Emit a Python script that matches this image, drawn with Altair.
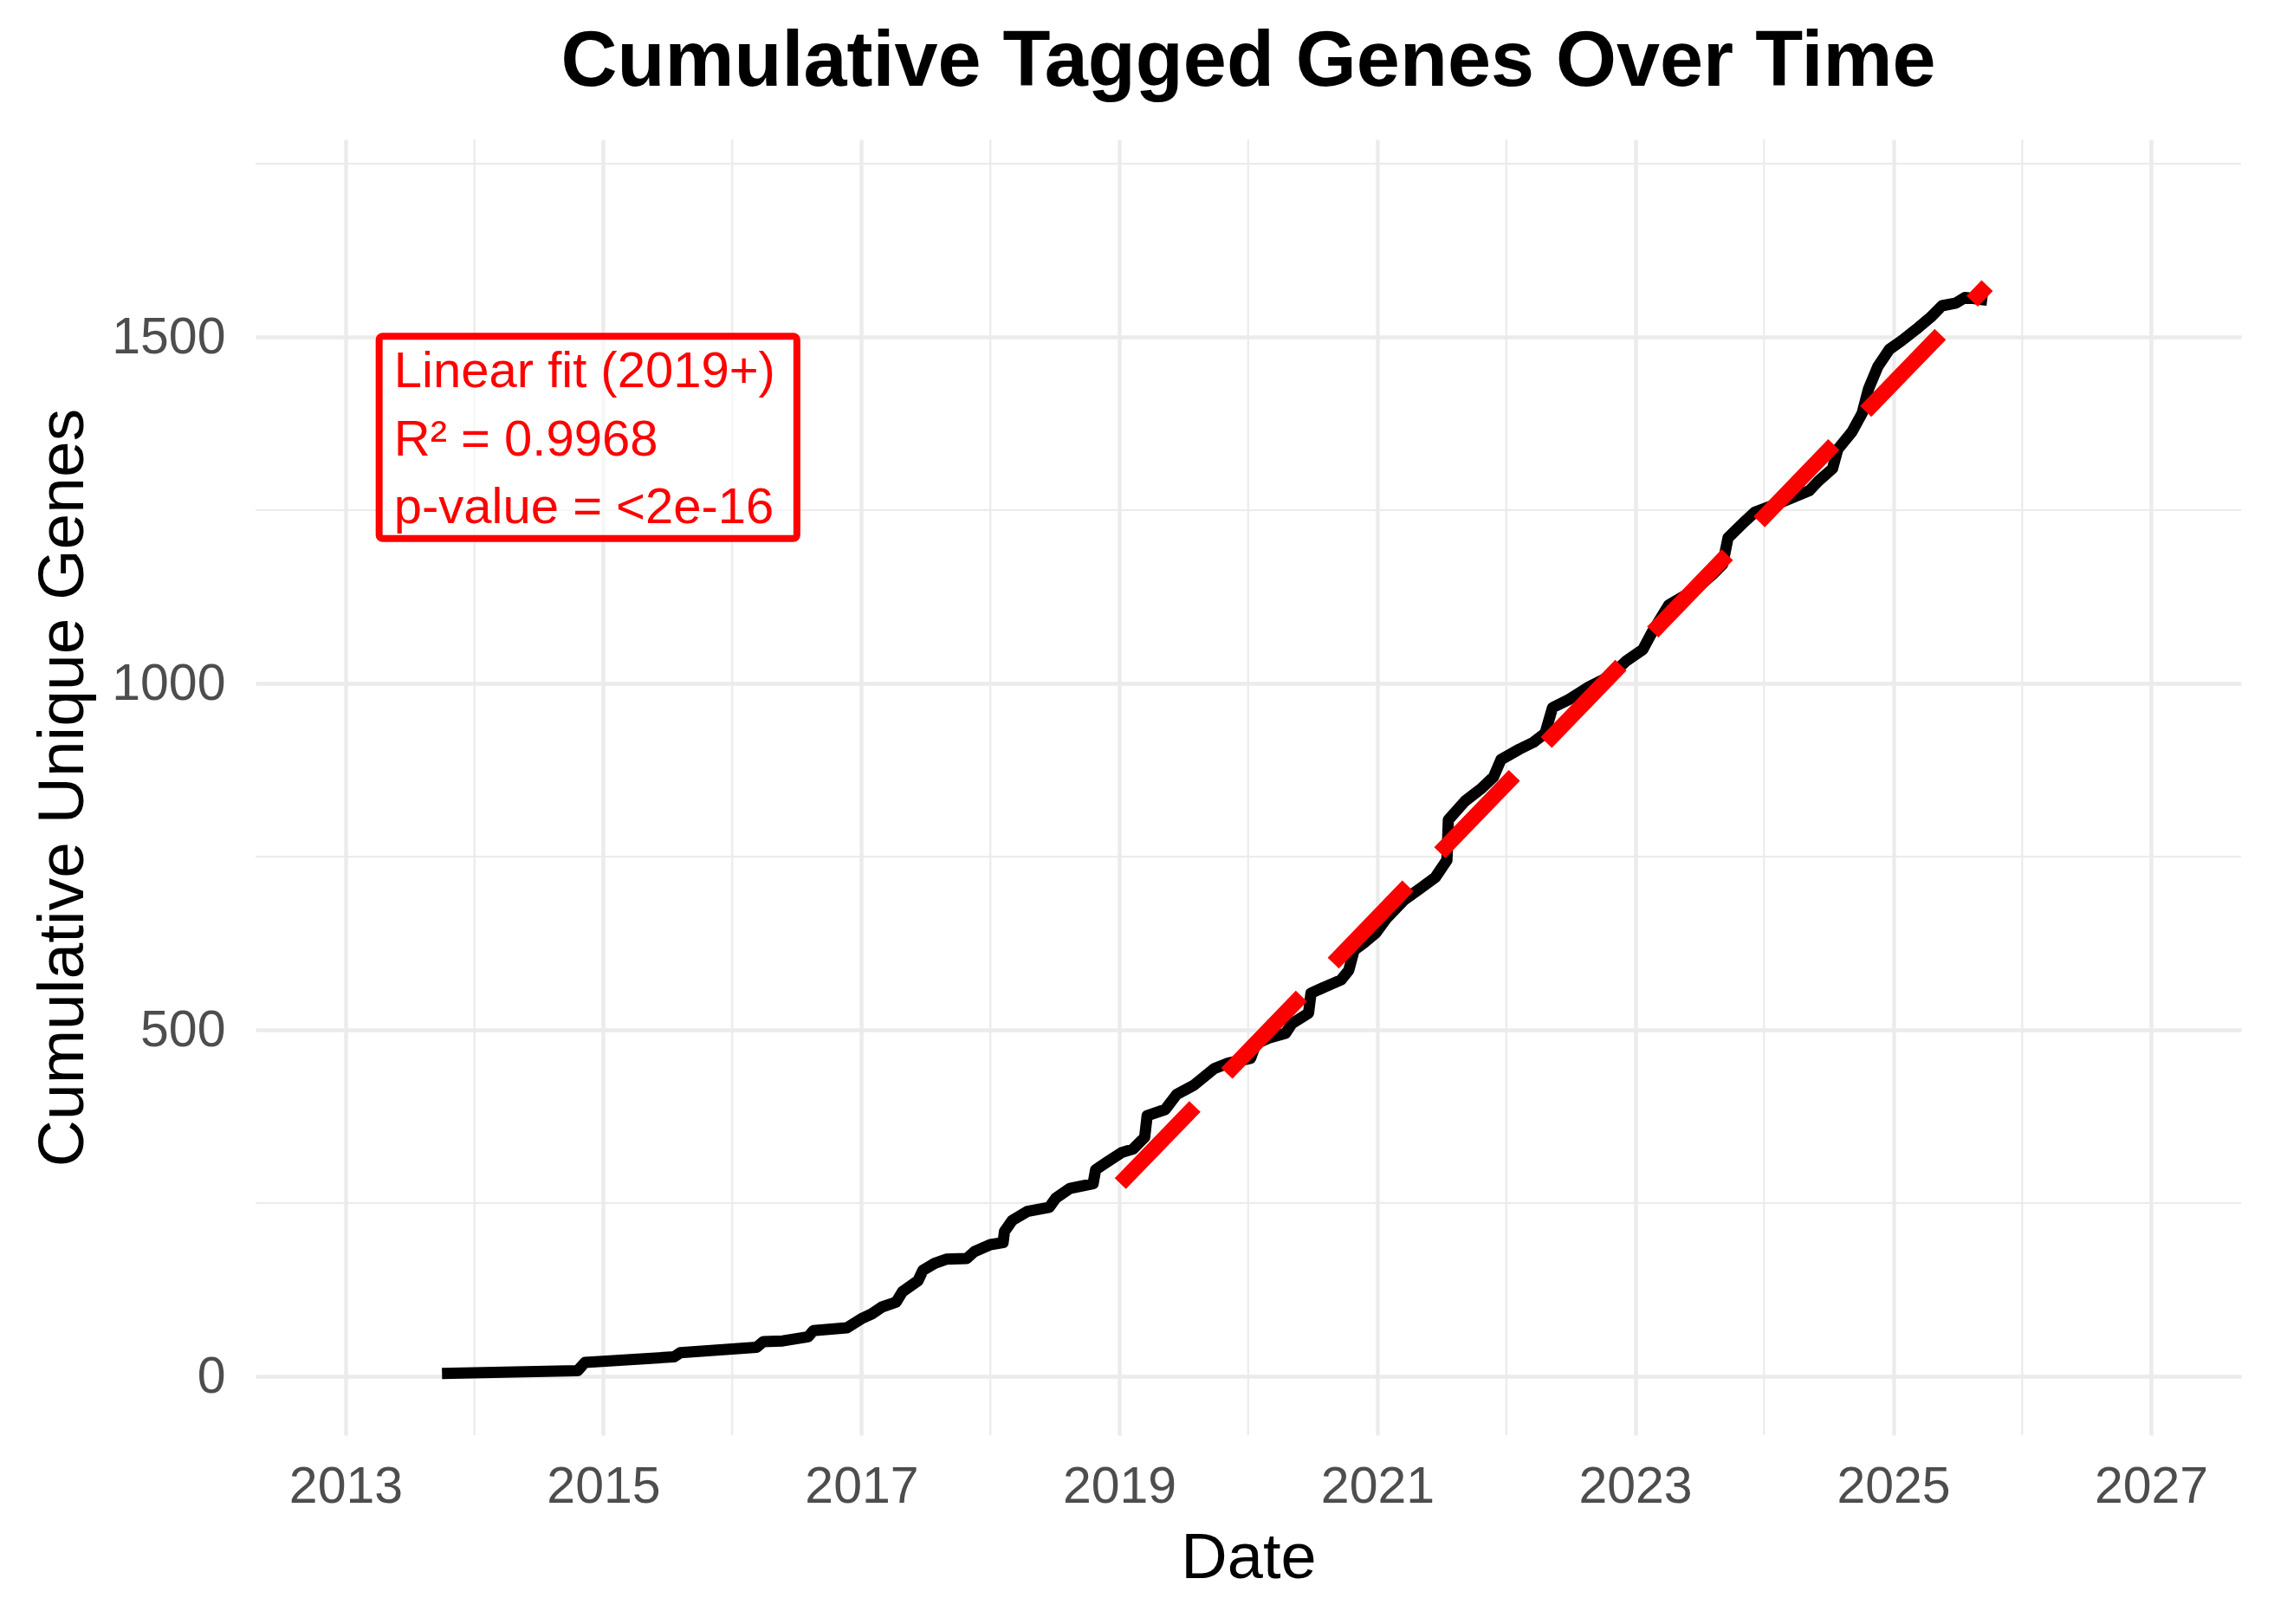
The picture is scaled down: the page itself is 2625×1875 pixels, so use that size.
import altair as alt
import pandas as pd

FONT = "Liberation Sans"

# ---- data ----
dates = [
    "2013-10-01", "2014-10-20", "2014-11-10", "2015-07-20", "2015-08-07",
    "2016-03-10", "2016-03-29", "2016-05-23", "2016-08-03", "2016-08-18",
    "2016-11-21", "2017-01-04", "2017-01-30", "2017-02-28", "2017-04-09",
    "2017-04-27", "2017-06-10", "2017-06-24", "2017-07-27", "2017-08-29",
    "2017-10-26", "2017-11-17", "2018-01-01", "2018-02-06", "2018-02-10",
    "2018-03-04", "2018-04-16", "2018-06-17", "2018-07-05", "2018-08-14",
    "2018-10-19", "2018-10-26", "2018-11-21", "2019-01-08", "2019-02-09",
    "2019-03-14", "2019-03-21", "2019-05-11", "2019-06-13", "2019-07-31",
    "2019-09-27", "2019-11-06", "2020-01-08", "2020-01-23", "2020-02-28",
    "2020-04-16", "2020-05-04", "2020-06-20", "2020-06-27", "2020-08-10",
    "2020-09-20", "2020-10-12", "2020-10-27", "2020-11-25", "2020-12-28",
    "2021-01-27", "2021-03-19", "2021-05-05", "2021-06-14", "2021-07-17",
    "2021-07-21", "2021-09-06", "2021-10-24", "2021-11-26", "2021-12-17",
    "2022-02-07", "2022-03-19", "2022-04-21", "2022-05-12", "2022-06-25",
    "2022-08-23", "2022-10-24", "2022-12-06", "2023-01-23", "2023-02-17",
    "2023-04-06", "2023-06-22", "2023-08-08", "2023-09-06", "2023-09-21",
    "2023-11-04", "2023-12-06", "2024-02-17", "2024-05-08", "2024-06-03",
    "2024-07-13", "2024-07-28", "2024-09-06", "2024-10-05", "2024-10-23",
    "2024-11-18", "2024-12-21", "2025-01-26", "2025-03-07", "2025-04-16",
    "2025-05-19", "2025-06-28", "2025-07-23", "2025-09-24",
]
genes = [
    4, 8, 20, 28, 34,
    42, 50, 51, 57, 66,
    70, 84, 90, 100, 107,
    122, 138, 153, 163, 169,
    170, 180, 190, 193, 209,
    225, 238, 244, 257, 271,
    278, 298, 307, 323, 328,
    345, 376, 385, 407, 420,
    444, 452, 459, 480, 488,
    495, 509, 524, 553, 563,
    572, 586, 615, 626, 640,
    661, 688, 705, 720, 745,
    803, 830, 849, 865, 890,
    905, 915, 928, 965, 976,
    995, 1011, 1032, 1049, 1073,
    1113, 1136, 1157, 1172, 1210,
    1232, 1247, 1261, 1278, 1292,
    1310, 1338, 1363, 1390, 1425,
    1457, 1482, 1495, 1511, 1528,
    1545, 1549, 1557, 1553,
]

fit_dates = ["2019-01-04", "2025-09-24"]
fit_genes = [278, 1574]

x_major_years = [2013, 2015, 2017, 2019, 2021, 2023, 2025, 2027]
x_minor_years = [2014, 2016, 2018, 2020, 2022, 2024, 2026]
y_major = [0, 500, 1000, 1500]
y_minor = [250, 750, 1250, 1750]

y_domain = [-85, 1785]

label_lines = ["Linear fit (2019+)", "R\u00b2 = 0.9968", "p-value = <2e-16"]
label_x = "2013-05-18"
label_y = [1427, 1329, 1231]
box_x = ["2013-04-06", "2016-07-02"]
box_y = [1209, 1501]

# ---- tables ----
curve = pd.DataFrame({"date": dates, "genes": genes})
fit = pd.DataFrame({"date": fit_dates, "genes": fit_genes})
xminor = pd.DataFrame({"date": [f"{y}-01-01" for y in x_minor_years]})
yminor = pd.DataFrame({"genes": y_minor})
labels = pd.DataFrame({"date": [label_x] * 3, "genes": label_y, "label": label_lines})
box = pd.DataFrame({"date": [box_x[0]], "date2": [box_x[1]],
                    "genes": [box_y[0]], "genes2": [box_y[1]]})

W, H = 2292, 1496
GRID = "#EBEBEB"

xscale = alt.Scale(
    type="utc",
    domain=[alt.DateTime(year=2012, month=4, date=21, utc=True),
            alt.DateTime(year=2027, month=9, date=13, utc=True)],
)
yscale = alt.Scale(domain=y_domain, nice=False, zero=False)

xaxis = alt.Axis(
    values=[alt.DateTime(year=y, month=1, date=1, utc=True) for y in x_major_years],
    format="%Y",
    grid=True, gridColor=GRID, gridWidth=4.4,
    ticks=False, domain=False,
    labelFont=FONT, labelFontSize=59, labelColor="#4D4D4D", labelPadding=30,
    labelOverlap=False,
    title="Date", titleFont=FONT, titleFontSize=74, titleFontWeight="normal",
    titleColor="black", titleX=W / 2, titleY=164, titleAlign="center",
    titleBaseline="alphabetic",
)
yaxis = alt.Axis(
    values=y_major, format="d",
    grid=True, gridColor=GRID, gridWidth=4.4,
    ticks=False, domain=False,
    labelFont=FONT, labelFontSize=59, labelColor="#4D4D4D", labelPadding=35,
    title="Cumulative Unique Genes", titleFont=FONT, titleFontSize=75,
    titleFontWeight="normal", titleColor="black", titleAngle=-90,
    titleX=-200, titleY=H / 2, titleAlign="center", titleBaseline="alphabetic",
)

X = alt.X("date:T", scale=xscale, axis=xaxis)
Y = alt.Y("genes:Q", scale=yscale, axis=yaxis)

minor_x = alt.Chart(xminor).mark_rule(color=GRID, strokeWidth=2.2).encode(x=X)
minor_y = alt.Chart(yminor).mark_rule(color=GRID, strokeWidth=2.2).encode(y=Y)

line = alt.Chart(curve).mark_line(
    color="black", strokeWidth=13, strokeJoin="round", strokeCap="butt"
).encode(x=X, y=Y)

fit_line = alt.Chart(fit).mark_line(
    color="#FF0000", strokeWidth=18, strokeDash=[124, 53], strokeCap="butt"
).encode(x=X, y=Y)

box_layer = alt.Chart(box).mark_rect(
    fill="white", fillOpacity=0.6, stroke="#FF0000", strokeWidth=8, cornerRadius=4
).encode(x=X, x2="date2:T", y=Y, y2="genes2:Q")

text_layer = alt.Chart(labels).mark_text(
    align="left", baseline="alphabetic", fontSize=58, font=FONT, color="#FF0000"
).encode(x=X, y=Y, text="label:N")

chart = alt.layer(
    minor_x, minor_y, line, fit_line, box_layer, text_layer
).properties(
    width=W,
    height=H,
    padding={"left": 287, "top": 153, "right": 30, "bottom": 200},
    autosize=alt.AutoSizeParams(type="none"),
    background="white",
    title=alt.TitleParams(
        text="Cumulative Tagged Genes Over Time",
        font=FONT, fontSize=90, fontWeight="bold", color="black",
        anchor="middle", baseline="alphabetic", offset=59, dy=88,
    ),
).configure_view(strokeWidth=0)

chart.save("out.html", embed_options={"renderer": "svg", "actions": False})
